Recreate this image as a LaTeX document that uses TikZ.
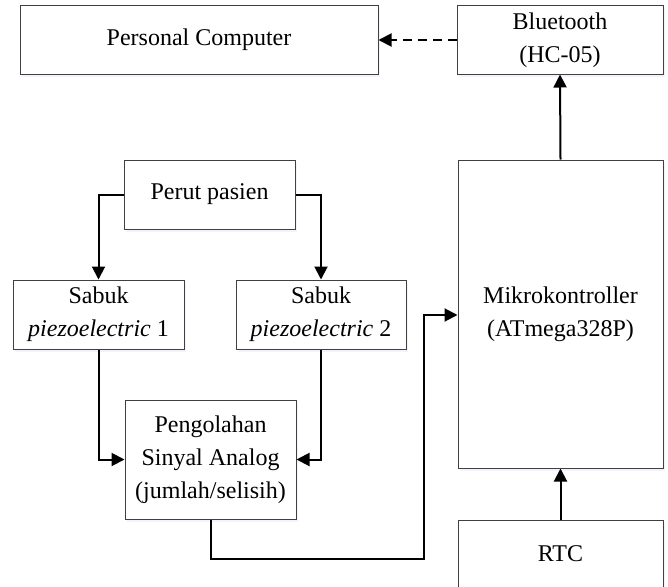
\documentclass[tikz,border=0pt]{standalone}
\usepackage{fontspec}
\setmainfont{Liberation Serif}
\usetikzlibrary{arrows.meta,shadows}
\begin{document}
\begin{tikzpicture}[x=1pt,y=-1pt,
  blk/.style={draw=black!75, line width=1pt, fill=white, inner sep=0pt, align=center,
    font=\fontsize{24}{33}\selectfont,
    drop shadow={opacity=0.12, fill=blue!40, shadow xshift=1.5pt, shadow yshift=-2.5pt}},
  conn/.style={line width=2pt, -{Triangle[length=13pt,width=13pt]}},
  dconn/.style={conn, dash pattern=on 9pt off 6pt}]
\useasboundingbox (0,0) rectangle (668,586);
\clip (0,0) rectangle (668,586);
\node[blk, minimum width=358pt, minimum height=68pt] (pc) at (199,40) {Personal Computer};
\node[blk, minimum width=206pt, minimum height=68pt] (bt) at (560,40) {Bluetooth\\(HC-05)};
\node[blk, minimum width=205pt, minimum height=308pt] (mc) at (560.5,314) {Mikrokontroller\\(ATmega328P)};
\node[blk, minimum width=171pt, minimum height=69pt] (pp) at (209.5,194.5) {Perut pasien};
\node[blk, minimum width=171pt, minimum height=69pt] (s1) at (98.5,314.5) {Sabuk\\\textit{piezoelectric} 1};
\node[blk, minimum width=170pt, minimum height=69pt] (s2) at (321,314.5) {Sabuk\\\textit{piezoelectric} 2};
\node[blk, minimum width=171pt, minimum height=119pt] (pa) at (210.5,459.5) {Pengolahan\\Sinyal Analog\\(jumlah/selisih)};
\node[blk, minimum width=205pt, minimum height=68pt] (rtc) at (560.5,554) {RTC};
\draw[dconn] (bt.west) -- (pc.east);
\draw[conn] (mc.north) -- (bt.south);
\draw[conn] (pp.west) -| (s1.north);
\draw[conn] (pp.east) -| (s2.north);
\draw[conn] (s1.south) |- (pa.west);
\draw[conn] (s2.south) |- (pa.east);
\draw[conn] (pa.south) -- (210.5,559) -- (424,559) -- (424,315) -- (mc.west |- 0,315);
\draw[conn] (rtc.north) -- (mc.south);
\end{tikzpicture}
\end{document}
